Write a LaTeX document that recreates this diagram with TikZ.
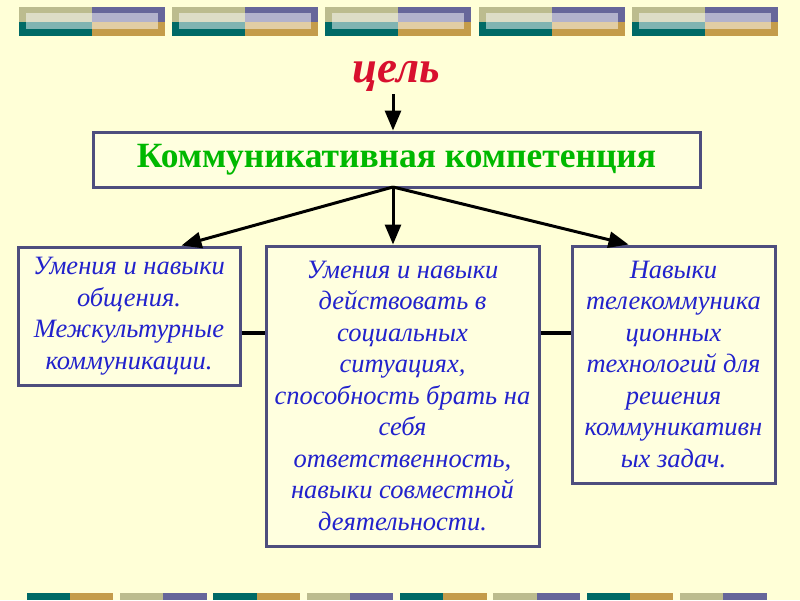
\documentclass[tikz,border=0pt]{standalone}
\usepackage{fontspec}
\setmainfont{Liberation Serif}
\usetikzlibrary{arrows.meta}
\definecolor{bg}{HTML}{FFFFD7}
\definecolor{boxfill}{HTML}{FFFFDF}
\definecolor{boxline}{HTML}{4E4E7E}
\definecolor{txtblue}{HTML}{2222CC}
\definecolor{ttlgreen}{HTML}{00B800}
\definecolor{goalred}{HTML}{D8102E}
\definecolor{dolive}{HTML}{BCBC8E}
\definecolor{dpurple}{HTML}{66669A}
\definecolor{dteal}{HTML}{006A66}
\definecolor{dgold}{HTML}{C49C4A}
\begin{document}
\begin{tikzpicture}[x=1pt,y=-1pt,
  box/.style={draw=boxline,line width=3pt,fill=boxfill,align=center,inner sep=0pt},
  boxtext/.style={font=\fontsize{26.5}{31.5}\selectfont\itshape,text=txtblue},
  arr/.style={line width=3pt,-{Triangle[length=20pt,width=16pt]}},
  link/.style={line width=4pt}]
\fill[bg] (0,0) rectangle (800,600);
% top decoration
\foreach \x in {19,172,325,479,632}{
  \fill[dolive] (\x,7) rectangle (\x+73,21.5);
  \fill[dpurple] (\x+73,7) rectangle (\x+146,21.5);
  \fill[dteal] (\x,21.5) rectangle (\x+73,36);
  \fill[dgold] (\x+73,21.5) rectangle (\x+146,36);
  \fill[white,opacity=0.5] (\x+7,13) rectangle (\x+139,29);
}
% bottom decoration
\foreach \i in {0,...,7}{
  \pgfmathsetmacro{\xx}{26.7+93.33*\i}
  \ifodd\i
    \fill[dolive] (\xx,593) rectangle (\xx+43.3,600);
    \fill[dpurple] (\xx+43.3,593) rectangle (\xx+86.7,600);
  \else
    \fill[dteal] (\xx,593) rectangle (\xx+43.3,600);
    \fill[dgold] (\xx+43.3,593) rectangle (\xx+86.7,600);
  \fi
}
\node[font=\fontsize{45}{48}\selectfont\bfseries\itshape,text=goalred] (goal) at (396,76) {цель};
\node[box,minimum width=607pt,minimum height=55pt,font=\fontsize{35.5}{38}\selectfont\bfseries,text=ttlgreen] (main) at (396.5,159.5) {Коммуникативная компетенция};
\node[box,boxtext,minimum width=222pt,minimum height=138pt] (l) at (129,316)
  {Умения и навыки\\общения.\\Межкультурные\\коммуникации.};
\node[box,boxtext,minimum width=273pt,minimum height=300pt] (m) at (402.5,396)
  {Умения и навыки\\действовать в\\социальных\\ситуациях,\\способность брать на\\себя\\ответственность,\\навыки совместной\\деятельности.};
\node[box,boxtext,minimum width=203pt,minimum height=237pt] (r) at (673.5,364.5)
  {Навыки\\телекоммуника\\ционных\\технологий для\\решения\\коммуникативн\\ых задач.};
\coordinate (g0) at (393,94);
\coordinate (s0) at (393,187);
\draw[arr] (g0) -- (g0 |- main.north);
\draw[arr] (s0) -- ([xshift=165pt]l.north west);
\draw[arr] (s0) -- (s0 |- m.north);
\draw[arr] (s0) -- ([xshift=58pt]r.north west);
\draw[link] (l.east |- 0,333) -- (m.west |- 0,333);
\draw[link] (m.east |- 0,333) -- (r.west |- 0,333);
\end{tikzpicture}
\end{document}
